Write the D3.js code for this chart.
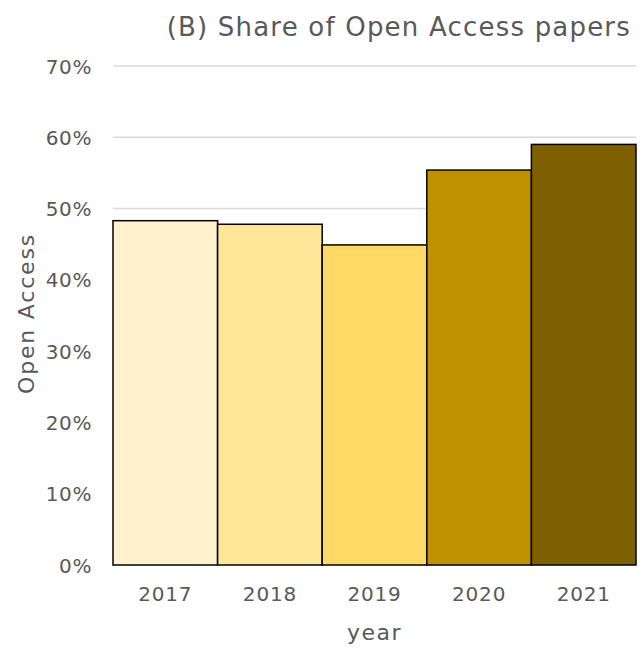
<!DOCTYPE html>
<html><head><meta charset="utf-8">
<script src="https://cdn.jsdelivr.net/npm/d3@7"></script>
<style>body{margin:0;background:#fff}svg{display:block}text{font-family:"Century Gothic","DejaVu Sans",sans-serif;fill:#595959}</style>
</head><body><svg id="c" width="644" height="648"></svg>
<script>
const years = ["2017","2018","2019","2020","2021"];
const openAccess = [0.483, 0.478, 0.449, 0.554, 0.590];
const colors = ["#FFF2CC","#FFE699","#FFD966","#BF9000","#7F6000"];
const yTicks = [0,0.1,0.2,0.3,0.4,0.5,0.6,0.7];
const title = "(B) Share of Open Access papers";

const svg = d3.select("#c");
const m = {l:113, r:8, t:66, b:83};
const W = 644, H = 648;
const x = d3.scaleBand().domain(years).range([m.l, W-m.r]).padding(0);
const y = d3.scaleLinear().domain([0,0.7]).range([H-m.b, m.t]);

svg.append("g").selectAll("line").data(yTicks.slice(1)).join("line")
  .attr("x1", m.l).attr("x2", W-m.r).attr("y1", d=>y(d)).attr("y2", d=>y(d))
  .attr("stroke", "#d9d9d9").attr("stroke-width", 1.5);

svg.append("g").selectAll("rect").data(years).join("rect")
  .attr("x", d=>x(d)).attr("width", x.bandwidth())
  .attr("y", (d,i)=>y(openAccess[i])).attr("height", (d,i)=>y(0)-y(openAccess[i]))
  .attr("fill", (d,i)=>colors[i]).attr("stroke", "#000").attr("stroke-width", 1.5);

const yAxis = svg.append("g").attr("transform", `translate(${m.l},0)`)
  .call(d3.axisLeft(y).tickValues(yTicks).tickFormat(d3.format(".0%")).tickSize(0).tickPadding(21));
yAxis.select(".domain").remove();
yAxis.selectAll("text").style("font-size","20px").style("letter-spacing","0.6px").attr("dy","0.35em");

const xAxis = svg.append("g").attr("transform", `translate(0,${y(0)})`)
  .call(d3.axisBottom(x).tickSize(0).tickPadding(22));
xAxis.select(".domain").remove();
xAxis.selectAll("text").style("font-size","20px").style("letter-spacing","0.8px");

svg.append("text").attr("x", 631).attr("y", 36).attr("text-anchor","end")
  .style("font-size","26px").style("letter-spacing","1.2px").text(title);
svg.append("text").attr("x", x.range()[0] + (x.range()[1]-x.range()[0])/2).attr("y", 640)
  .attr("text-anchor","middle").style("font-size","22px").style("letter-spacing","1.5px").text("year");
svg.append("text").attr("transform", `translate(34,${(y(0)+y(0.7))/2 - 2}) rotate(-90)`)
  .attr("text-anchor","middle").style("font-size","22px").style("letter-spacing","1.8px").text("Open Access");
</script></body></html>
